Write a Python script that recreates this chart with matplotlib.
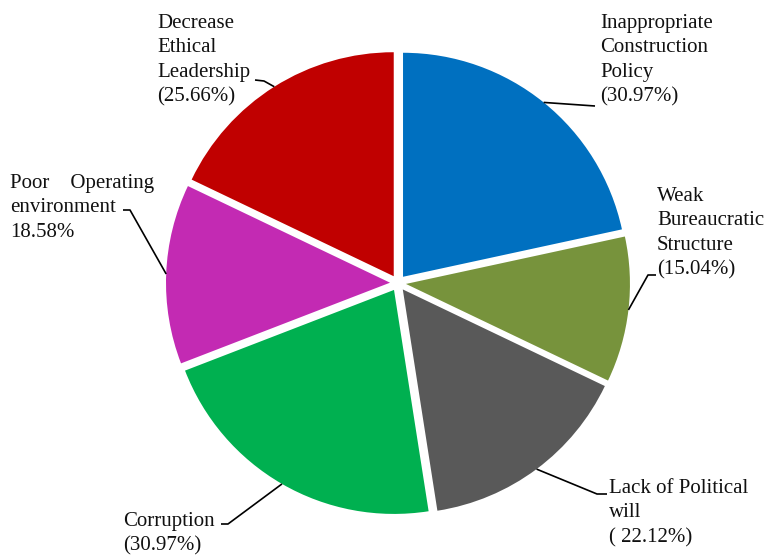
import matplotlib.pyplot as plt
import numpy as np

plt.rcParams['font.family'] = ['Liberation Serif', 'DejaVu Serif']

# shares reported for each factor (%)
factors = [
    "Inappropriate\nConstruction\nPolicy\n(30.97%)",
    "Weak\nBureaucratic\nStructure\n(15.04%)",
    "Lack of Political\nwill\n( 22.12%)",
    "Corruption\n(30.97%)",
    "Poor    Operating\nenvironment\n18.58%",
    "Decrease\nEthical\nLeadership\n(25.66%)",
]
shares = [30.97, 15.04, 22.12, 30.97, 18.58, 25.66]
colors = ["#0070C0", "#77933C", "#595959", "#00B050", "#C32AB3", "#C00000"]

W, H = 767, 556
px = 1 / 100
fig = plt.figure(figsize=(W * px, H * px), dpi=100)
ax = fig.add_axes([0, 0, 1, 1])

center = (398, H - 283)
radius = 224
gap = 8  # pie() takes explode in data units, here pixels

wedges, _ = ax.pie(
    shares,
    colors=colors,
    startangle=90,
    counterclock=False,
    explode=[gap] * len(shares),
    radius=radius,
    center=center,
)
ax.set_xlim(0, W)
ax.set_ylim(0, H)
ax.set_aspect('equal')
ax.axis('off')

# label text (left, top of first line) and the elbow of each leader line
layout = [
    ((600, 14), [(595, 106)]),
    ((657, 187), [(648, 275), (656, 275)]),
    ((609, 479), [(597, 494), (607, 494)]),
    ((123, 512), [(228, 524), (221, 524)]),
    ((10, 174), [(130, 210), (123, 210)]),
    ((157, 14), [(264, 81), (255, 80)]),
]

for w, text, ((tx, ty), elbow) in zip(wedges, factors, layout):
    mid = np.deg2rad((w.theta1 + w.theta2) / 2)
    dist = radius + gap
    ax_x = center[0] + dist * np.cos(mid)
    ax_y = center[1] + dist * np.sin(mid)
    xs = [ax_x] + [p[0] for p in elbow]
    ys = [ax_y] + [H - p[1] for p in elbow]
    ax.plot(xs, ys, color="black", lw=1.2, solid_capstyle='butt')
    ax.text(tx, H - ty, text, ha='left', va='top', fontsize=15,
            linespacing=1.38, color="#111111")

fig.savefig("out.png", dpi=100, facecolor="white")
